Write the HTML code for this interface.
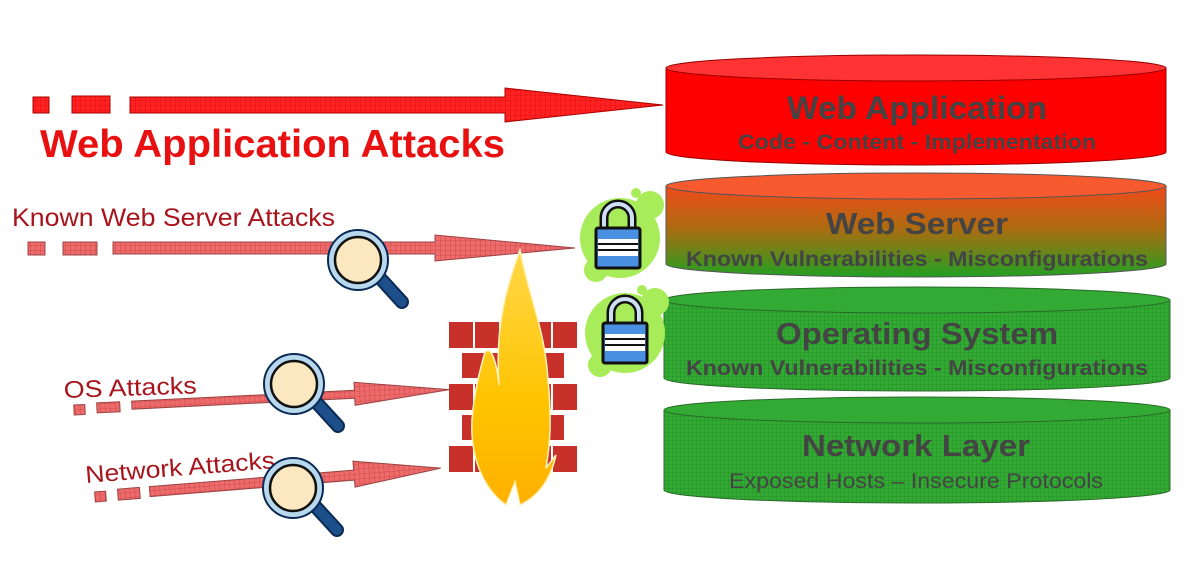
<!DOCTYPE html>
<html><head><meta charset="utf-8"><style>
html,body{margin:0;padding:0;background:#fff;}
svg{display:block;}
</style></head><body>
<svg width="1200" height="588" viewBox="0 0 1200 588" xmlns="http://www.w3.org/2000/svg" font-family="Liberation Sans, sans-serif">
<defs>
<pattern id="gr" width="5" height="5" patternUnits="userSpaceOnUse"><rect width="5" height="5" fill="#f22"/><path d="M0 0H5M0 0V5" stroke="#c00" stroke-width="0.6"/></pattern>
<pattern id="gp" width="5" height="5" patternUnits="userSpaceOnUse"><rect width="5" height="5" fill="#ee6b6b"/><path d="M0 0H5M0 0V5" stroke="#b33" stroke-width="0.6"/></pattern>
<pattern id="gg" width="4" height="4" patternUnits="userSpaceOnUse"><rect width="4" height="4" fill="#3a3"/><path d="M0 0H4M0 0V4" stroke="#1d7a1d" stroke-width="0.6"/></pattern>
<linearGradient id="ws" x1="0" y1="0" x2="0" y2="1"><stop offset="0" stop-color="#f04a1a"/><stop offset="0.45" stop-color="#b06a10"/><stop offset="1" stop-color="#22a022"/></linearGradient>
<linearGradient id="fl" x1="0" y1="0" x2="0" y2="1"><stop offset="0" stop-color="#ffd84a"/><stop offset="0.6" stop-color="#ffc400"/><stop offset="1" stop-color="#ffb000"/></linearGradient>
<g id="mag">
<line x1="22" y1="18" x2="44" y2="42" stroke="#0a2a55" stroke-width="14" stroke-linecap="round"/>
<line x1="22" y1="18" x2="44" y2="42" stroke="#1d4f8a" stroke-width="10" stroke-linecap="round"/>
<circle r="30" fill="#b8d8ee" stroke="#0a2a55" stroke-width="2"/>
<circle r="23" fill="#fbe8c0" stroke="#111" stroke-width="2.5"/>
</g>
<g id="lock">
<path d="M-14 0V-12a14 14 0 0 1 28 0V0" fill="none" stroke="#111" stroke-width="9"/>
<path d="M-14 0V-12a14 14 0 0 1 28 0V0" fill="none" stroke="#cfe0f5" stroke-width="4"/>
<rect x="-22" y="-2" width="44" height="40" rx="2" fill="#4a90e2" stroke="#111" stroke-width="3"/>
<rect x="-20" y="9" width="40" height="17" fill="#fff"/>
<path d="M-20 14H20M-20 20H20" stroke="#111" stroke-width="2"/>
</g>
</defs>

<g stroke="#2a6a2a" stroke-width="1">
<path d="M664 410 V490 A253 13 0 0 0 1170 490 V410 Z" fill="url(#gg)"/>
<ellipse cx="917" cy="410" rx="253" ry="13" fill="#3a3"/>
<path d="M664 300 V378 A253 13 0 0 0 1170 378 V300 Z" fill="url(#gg)"/>
<ellipse cx="917" cy="300" rx="253" ry="13" fill="#3a3"/>
</g>
<path d="M666 186 V264 A250 13 0 0 0 1166 264 V186 Z" fill="url(#ws)" stroke="#555" stroke-width="1"/>
<ellipse cx="916" cy="186" rx="250" ry="13" fill="#f85a30" stroke="#555"/>
<path d="M666 68 V152 A250 13 0 0 0 1166 152 V68 Z" fill="#f00" stroke="#900" stroke-width="1"/>
<ellipse cx="916" cy="68" rx="250" ry="13" fill="#f33" stroke="#900"/>

<g fill="#444" font-weight="bold">
<text x="787" y="119" font-size="32" textLength="260" lengthAdjust="spacingAndGlyphs">Web Application</text>
<text x="738" y="149" font-size="21" textLength="358" lengthAdjust="spacingAndGlyphs">Code - Content - Implementation</text>
<text x="826" y="234" font-size="31" textLength="182" lengthAdjust="spacingAndGlyphs">Web Server</text>
<text x="686" y="266" font-size="21" textLength="462" lengthAdjust="spacingAndGlyphs">Known Vulnerabilities - Misconfigurations</text>
<text x="776" y="344" font-size="31" textLength="282" lengthAdjust="spacingAndGlyphs">Operating System</text>
<text x="686" y="375" font-size="21" textLength="462" lengthAdjust="spacingAndGlyphs">Known Vulnerabilities - Misconfigurations</text>
<text x="802" y="456" font-size="31" textLength="228" lengthAdjust="spacingAndGlyphs">Network Layer</text>
<text x="729" y="488" font-size="21" font-weight="normal" textLength="374" lengthAdjust="spacingAndGlyphs">Exposed Hosts – Insecure Protocols</text>
</g>

<g stroke="#a00" stroke-width="1" fill="url(#gr)">
<rect x="33" y="97" width="16" height="16"/>
<rect x="72" y="96" width="38" height="17"/>
<path d="M130 97 H505 V88 L663 105 L505 122 V113 H130 Z"/>
</g>
<text x="40" y="157" font-size="39" font-weight="bold" fill="#e81010" textLength="465" lengthAdjust="spacingAndGlyphs">Web Application Attacks</text>

<text x="12" y="226" font-size="25" fill="#a8141c" textLength="323" lengthAdjust="spacingAndGlyphs">Known Web Server Attacks</text>
<g stroke="#944" stroke-width="1" fill="url(#gp)">
<rect x="28" y="242" width="17" height="13"/>
<rect x="63" y="242" width="34" height="13"/>
<path d="M113 242 H435 V235 L575 248 L435 261 V254 H113 Z"/>
</g>
<use href="#mag" x="358" y="260"/>

<text x="64" y="398" font-size="24" fill="#a8141c" transform="rotate(-2 64 398)" textLength="133" lengthAdjust="spacingAndGlyphs">OS Attacks</text>
<g stroke="#944" stroke-width="1" fill="url(#gp)" transform="rotate(-2.8 74 410)">
<rect x="74" y="405" width="11" height="10"/>
<rect x="97" y="404" width="23" height="10"/>
<path d="M132 404 H355 V396 L450 408 L355 419 V412 H132 Z"/>
</g>
<use href="#mag" x="294" y="384"/>

<text x="86" y="483" font-size="24" fill="#a8141c" transform="rotate(-4.5 86 483)" textLength="190" lengthAdjust="spacingAndGlyphs">Network Attacks</text>
<g stroke="#944" stroke-width="1" fill="url(#gp)" transform="rotate(-4.6 95 497)">
<rect x="95" y="492" width="11" height="10"/>
<rect x="118" y="491" width="22" height="11"/>
<path d="M150 491 H355 V482 L442 496 L355 508 V501 H150 Z"/>
</g>
<use href="#mag" x="293" y="488"/>

<g fill="#c8302a">
<rect x="449" y="322" width="24" height="26"/><rect x="475" y="322" width="24" height="26"/><rect x="501" y="322" width="24" height="26"/><rect x="527" y="322" width="24" height="26"/><rect x="553" y="322" width="24" height="26"/>
<rect x="462" y="353" width="24" height="25"/><rect x="488" y="353" width="24" height="25"/><rect x="514" y="353" width="24" height="25"/><rect x="540" y="353" width="24" height="25"/>
<rect x="449" y="384" width="24" height="26"/><rect x="475" y="384" width="24" height="26"/><rect x="501" y="384" width="24" height="26"/><rect x="527" y="384" width="24" height="26"/><rect x="553" y="384" width="24" height="26"/>
<rect x="462" y="415" width="24" height="25"/><rect x="488" y="415" width="24" height="25"/><rect x="514" y="415" width="24" height="25"/><rect x="540" y="415" width="24" height="25"/>
<rect x="449" y="446" width="24" height="26"/><rect x="475" y="446" width="24" height="26"/><rect x="501" y="446" width="24" height="26"/><rect x="527" y="446" width="24" height="26"/><rect x="553" y="446" width="24" height="26"/>
</g>
<path d="M520 250 C530 300 545 330 548 380 C552 420 550 445 546 468 L556 455 C550 482 537 497 520 505 L515 482 L506 505 C485 490 470 460 472 420 C474 392 480 370 485 352 C492 345 497 365 499 385 C495 330 505 290 520 250 Z" fill="url(#fl)" stroke="#fff3c0" stroke-width="1.5"/>

<g fill="#a8ec5a">
<circle cx="620" cy="238" r="40"/><circle cx="650" cy="205" r="14"/><circle cx="596" cy="270" r="12"/><circle cx="636" cy="193" r="5"/>
<circle cx="625" cy="333" r="40"/><circle cx="655" cy="302" r="14"/><circle cx="600" cy="365" r="12"/><circle cx="642" cy="290" r="5"/>
</g>
<use href="#lock" x="618" y="230"/>
<use href="#lock" x="625" y="325"/>
</svg>
</body></html>
